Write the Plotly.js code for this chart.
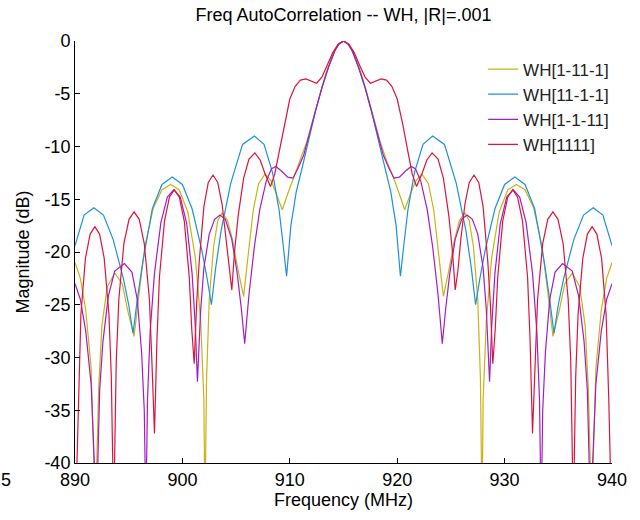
<!DOCTYPE html>
<html>
<head>
<meta charset="utf-8">
<script src="https://cdn.plot.ly/plotly-3.0.1.min.js"></script>
<style>html,body{margin:0;padding:0;background:#fff;} #chart{width:640px;height:520px;}</style>
</head>
<body>
<div id="chart"></div>
<script>
// Series names
const seriesNames = ["WH[1-11-1]", "WH[11-1-1]", "WH[1-1-11]", "WH[1111]"];

// WH[1-11-1] (olive)
const oliveFreq = [890.0,890.5,891.0,891.5,891.9,892.2,892.5,893.0,893.7,894.4,894.9,895.5,895.9,896.5,897.3,898.1,898.9,899.7,900.5,901.2,901.7,902.0,902.1,902.25,902.5,902.9,903.3,903.7,904.2,904.7,905.2,905.7,906.1,906.6,907.1,907.7,908.3,908.8,909.3,909.8,910.4,911.0,911.6,912.2,912.8,913.4,914.0,914.5,915.0,
  915.5,916.0,916.6,917.2,917.8,918.4,919.0,919.6,920.2,920.7,921.2,921.7,922.3,922.9,923.4,923.9,924.3,924.8,925.3,925.8,926.3,926.7,927.1,927.5,927.75,927.9,928.0,928.3,928.8,929.5,930.3,931.1,931.9,932.7,933.5,934.1,934.5,935.1,935.6,936.3,937.0,937.5,937.8,938.1,938.5,939.0,939.5,940.0];
const oliveDb = [-21,-22.5,-25.5,-31,-45,-33,-27,-23.3,-22.0,-23,-25.5,-28,-24.5,-19.5,-15.8,-14.1,-13.6,-14.1,-16.2,-20.5,-26.5,-34,-45,-32,-24.5,-19.5,-17,-16.3,-17,-19,-21.8,-24.2,-20.5,-16,-13.5,-12.6,-13.3,-14.6,-16,-14.5,-12.8,-11.3,-9.5,-7.3,-5.0,-2.9,-1.3,-0.35,0,
  -0.35,-1.3,-2.9,-5.0,-7.3,-9.5,-11.3,-12.8,-14.5,-16,-14.6,-13.3,-12.6,-13.5,-16,-20.5,-24.2,-21.8,-19,-17,-16.3,-17,-19.5,-24.5,-32,-45,-34,-26.5,-20.5,-16.2,-14.1,-13.6,-14.1,-15.8,-19.5,-24.5,-28,-25.5,-23,-22.0,-23.3,-27,-33,-45,-31,-25.5,-22.5,-21];

// WH[11-1-1] (blue)
const blueFreq = [890.0,890.85,891.75,892.65,893.55,894.5,895.0,895.4,895.8,896.3,897.2,898.1,899.05,900.0,900.9,901.8,902.3,902.7,903.1,903.6,904.5,905.6,906.7,907.6,908.4,909.0,909.4,909.7,910.1,910.6,911.2,911.8,912.4,913.0,913.6,914.2,914.6,915.0,
  915.4,915.8,916.4,917.0,917.6,918.2,918.8,919.4,919.9,920.3,920.6,921.0,921.6,922.4,923.3,924.4,925.5,926.4,926.9,927.3,927.7,928.2,929.1,930.0,930.95,931.9,932.8,933.7,934.2,934.6,935.0,935.5,936.45,937.35,938.25,939.15,940.0];
const blueDb = [-19.4,-16.5,-15.8,-16.5,-18.8,-22.5,-25,-27.7,-24.5,-21.0,-15.9,-13.6,-12.9,-13.6,-15.9,-19.8,-22.5,-25.0,-21.5,-18,-13.5,-9.8,-9.0,-9.8,-12.5,-16,-19.5,-22.3,-17.5,-14.3,-11.8,-9.2,-6.6,-4.4,-2.5,-0.9,-0.25,0,
  -0.25,-0.9,-2.5,-4.4,-6.6,-9.2,-11.8,-14.3,-17.5,-22.3,-19.5,-16,-12.5,-9.8,-9.0,-9.8,-13.5,-18,-21.5,-25.0,-22.5,-19.8,-15.9,-13.6,-12.9,-13.6,-15.9,-21.0,-24.5,-27.7,-25,-22.5,-18.8,-16.5,-15.8,-16.5,-19.4];

// WH[1-1-11] (purple)
const purpleFreq = [890.0,890.5,891.0,891.5,892.0,892.3,892.6,893.1,893.7,894.6,895.3,895.8,896.2,896.45,896.6,896.75,897.0,897.4,898.0,898.6,899.2,899.8,900.4,900.9,901.2,901.4,901.7,902.0,902.5,903.0,903.5,904.0,904.6,905.1,905.5,905.8,906.2,906.7,907.2,907.8,908.3,908.7,909.2,909.8,910.3,910.8,911.3,911.8,912.4,913.0,913.6,914.2,914.6,915.0,
  915.4,915.8,916.4,917.0,917.6,918.2,918.7,919.2,919.7,920.2,920.8,921.3,921.7,922.2,922.8,923.3,923.8,924.2,924.5,924.9,925.4,926.0,926.5,927.0,927.5,928.0,928.3,928.6,928.8,929.1,929.6,930.2,930.8,931.4,932.0,932.6,933.0,933.25,933.4,933.55,933.8,934.2,934.7,935.4,936.3,936.9,937.4,937.7,938.0,938.5,939.0,939.5,940.0];
const purpleDb = [-23,-24.5,-27.5,-32.5,-45,-33,-28.5,-24.2,-21.8,-21.1,-21.9,-24.5,-29.5,-35,-45,-34,-27.5,-22,-17.2,-14.8,-14.1,-14.8,-17.3,-22,-27,-32.3,-25.5,-21.5,-18.3,-16.9,-16.5,-16.9,-18.8,-22,-25.5,-28.7,-24,-19.5,-16,-13.3,-12.1,-11.9,-12.3,-12.9,-13.0,-12.0,-10.8,-9.0,-6.6,-4.4,-2.5,-0.9,-0.25,0,
  -0.25,-0.9,-2.5,-4.4,-6.6,-9.0,-10.8,-12.0,-13.0,-12.9,-12.3,-11.9,-12.1,-13.3,-16,-19.5,-24,-28.7,-25.5,-22,-18.8,-16.9,-16.5,-16.9,-18.3,-21.5,-25.5,-32.3,-27,-22,-17.3,-14.8,-14.1,-14.8,-17.2,-22,-27.5,-34,-45,-35,-29.5,-24.5,-21.9,-21.1,-21.8,-24.2,-28.5,-33,-45,-32.5,-27.5,-24.5,-23];

// WH[1111] (crimson)
const redFreq = [890.05,890.3,890.55,890.97,891.41,891.85,892.29,892.72,893.16,893.38,893.6,893.84,894.08,894.55,895.03,895.5,895.98,896.45,896.93,897.16,897.4,897.63,897.86,898.33,898.79,899.25,899.71,900.18,900.64,900.87,901.1,901.32,901.56,902.0,902.41,902.85,903.29,903.7,904.1,904.35,904.6,904.85,905.2,905.7,906.2,906.75,907.25,907.7,908.2,908.6,909.0,909.5,910.0,910.5,911.0,911.5,912.0,912.5,913.0,913.5,914.0,914.5,915.0,
  915.5,916.0,916.5,917.0,917.5,918.0,918.5,919.0,919.5,920.0,920.5,921.0,921.4,921.8,922.3,922.75,923.25,923.8,924.3,924.8,925.15,925.4,925.65,925.9,926.3,926.71,927.15,927.59,928.0,928.44,928.68,928.9,929.13,929.36,929.82,930.29,930.75,931.21,931.67,932.14,932.37,932.6,932.84,933.07,933.55,934.02,934.5,934.97,935.45,935.92,936.16,936.4,936.62,936.84,937.28,937.71,938.15,938.59,939.03,939.45,939.7,939.95];
const redDb = [-45,-34,-25.9,-20.6,-18.3,-17.6,-18.3,-20.6,-25.9,-31.8,-45,-30.4,-24.5,-19.2,-16.9,-16.2,-16.9,-19.2,-24.5,-30.4,-37.2,-28.3,-22.4,-17.1,-14.8,-14.1,-14.8,-17.1,-22.4,-27.3,-30.6,-25,-21,-15.7,-13.4,-12.7,-13.4,-15.5,-19,-21.8,-23.6,-20,-16.5,-13,-11.2,-10.6,-11.3,-12.6,-13.8,-12.6,-10.5,-7.8,-5.5,-4.3,-3.7,-3.6,-3.8,-4.0,-3.4,-2.3,-1.1,-0.3,0,
  -0.3,-1.1,-2.3,-3.4,-4.0,-3.8,-3.6,-3.7,-4.3,-5.5,-7.8,-10.5,-12.6,-13.8,-12.6,-11.3,-10.6,-11.2,-13,-16.5,-20,-23.6,-21.8,-19,-15.5,-13.4,-12.7,-13.4,-15.7,-21,-25,-30.6,-27.3,-22.4,-17.1,-14.8,-14.1,-14.8,-17.1,-22.4,-28.3,-37.2,-30.4,-24.5,-19.2,-16.9,-16.2,-16.9,-19.2,-24.5,-30.4,-45,-31.8,-25.9,-20.6,-18.3,-17.6,-18.3,-20.6,-25.9,-34,-45];

// Tick labels
const xTickVals = [890, 900, 910, 920, 930, 940];
const xTickText = ["890", "900", "910", "920", "930", "940"];
const yTickVals = [0, -5, -10, -15, -20, -25, -30, -35, -40];
const yTickText = ["0", "-5", "-10", "-15", "-20", "-25", "-30", "-35", "-40"];

const colors = ["#c8b414", "#1e90dc", "#a41cc4", "#dc143c"];
const xs = [oliveFreq, blueFreq, purpleFreq, redFreq];
const ys = [oliveDb, blueDb, purpleDb, redDb];

const FONT = "Liberation Sans, Arial, sans-serif";
const traces = seriesNames.map((n, i) => ({
  type: "scatter", mode: "lines", name: n, x: xs[i], y: ys[i],
  line: {color: colors[i], width: 1.2}
}));

const layout = {
  width: 640, height: 520,
  margin: {l: 75, r: 28, t: 41, b: 57},
  paper_bgcolor: "#fff", plot_bgcolor: "#fff",
  font: {family: FONT, color: "#000", size: 18},
  title: {text: "Freq AutoCorrelation -- WH, |R|=.001", font: {family: FONT, size: 18, color: "#000"},
          xref: "paper", x: 0.5, xanchor: "center", yref: "container", y: 0.972, yanchor: "middle"},
  xaxis: {range: [890, 940], tickvals: xTickVals, ticktext: xTickText, ticks: "inside", ticklen: 5,
          tickcolor: "#000", showline: true, linecolor: "#000", linewidth: 1, mirror: false,
          showgrid: false, zeroline: false, tickfont: {family: FONT, size: 18, color: "#000"},
          title: {text: "Frequency (MHz)", font: {family: FONT, size: 18, color: "#000"}, standoff: 4}},
  yaxis: {range: [-40, 0], tickvals: yTickVals, ticktext: yTickText, ticks: "inside", ticklen: 5,
          tickcolor: "#000", showline: true, linecolor: "#000", linewidth: 1, mirror: false,
          showgrid: false, zeroline: false, tickfont: {family: FONT, size: 18, color: "#000"},
          title: {text: "Magnitude (dB)", font: {family: FONT, size: 18, color: "#000"}, standoff: 10}},
  showlegend: true,
  legend: {x: 0.76, y: 0.975, xanchor: "left", yanchor: "top", bgcolor: "rgba(0,0,0,0)",
           font: {family: FONT, size: 17, color: "#222"}, tracegroupgap: 0},
  annotations: [{text: "5", xref: "paper", yref: "paper", x: -0.128, y: -0.04, xanchor: "center", yanchor: "middle",
                 showarrow: false, font: {family: FONT, size: 18, color: "#000"}}]
};

Plotly.newPlot("chart", traces, layout, {displayModeBar: false, staticPlot: true});
</script>
</body>
</html>
